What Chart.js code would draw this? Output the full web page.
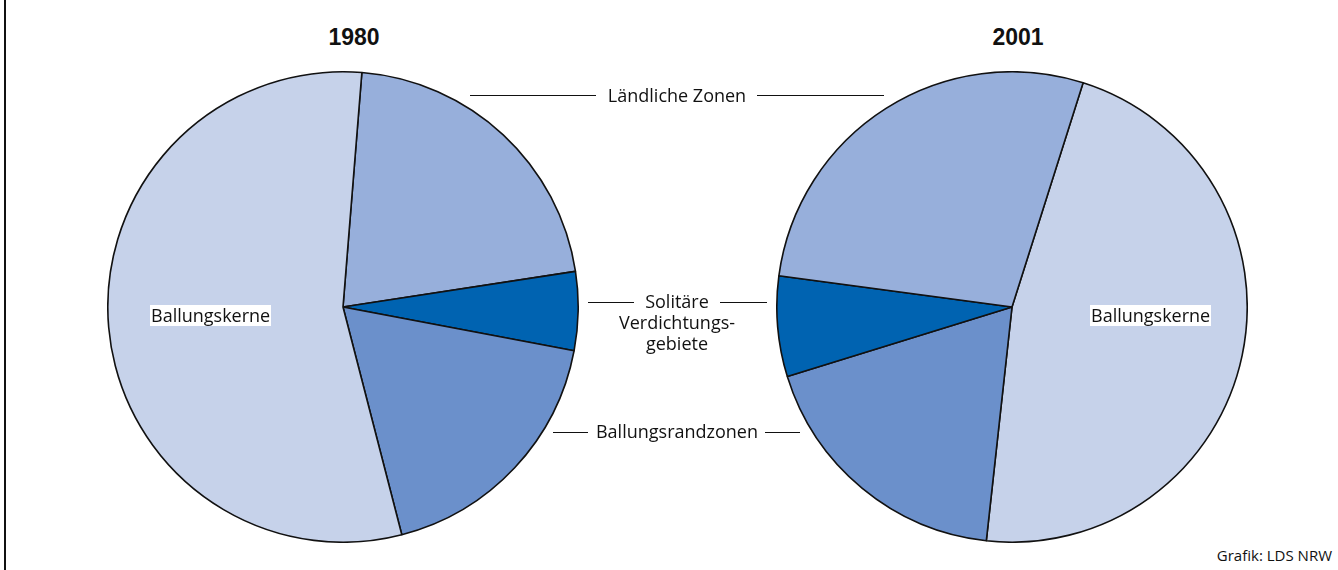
<!DOCTYPE html>
<html>
<head>
<meta charset="utf-8">
<script src="https://cdn.jsdelivr.net/npm/chart.js@4"></script>
<style>
  body { margin: 0; background: #fff; font-family: "Open Sans", "Noto Sans", sans-serif; color: #111; }
  #page { position: relative; width: 1338px; height: 570px; overflow: hidden; }
  #border { position: absolute; left: 4px; top: 0; width: 2px; height: 570px; background: #111; }
  .pie { position: absolute; width: 472px; height: 472px; }
  .year { position: absolute; top: 24px; width: 120px; text-align: center; font-family: "Liberation Sans", Arial, sans-serif; font-weight: bold; font-size: 23px; }
  .label { position: absolute; font-size: 18px; line-height: 21px; text-align: center; white-space: nowrap; }
  .tag { position: absolute; font-size: 18px; line-height: 21px; background: #fff; padding: 0 1px; white-space: nowrap; }
  .rule { position: absolute; height: 1px; background: #111; }
  #source { position: absolute; right: 6px; top: 545px; font-size: 15px; }
</style>
</head>
<body>
<div id="page">
  <div id="border"></div>
  <div class="year" style="left:294px">1980</div>
  <div class="year" style="left:958px">2001</div>

  <div class="pie" style="left:107px; top:71px"><canvas id="pie1980"></canvas></div>
  <div class="pie" style="left:776px; top:71px"><canvas id="pie2001"></canvas></div>

  <div class="rule" style="left:470px; top:95px; width:126px"></div>
  <div class="label" style="left:577px; top:85px; width:200px">Ländliche Zonen</div>
  <div class="rule" style="left:757px; top:95px; width:127px"></div>

  <div class="rule" style="left:588px; top:302px; width:46px"></div>
  <div class="label" style="left:577px; top:291px; width:200px">Solitäre<br>Verdichtungs-<br>gebiete</div>
  <div class="rule" style="left:720px; top:302px; width:47px"></div>

  <div class="rule" style="left:553px; top:432px; width:35px"></div>
  <div class="label" style="left:577px; top:421px; width:200px">Ballungsrandzonen</div>
  <div class="rule" style="left:765px; top:432px; width:35px"></div>

  <div class="tag" style="left:150px; top:305px">Ballungskerne</div>
  <div class="tag" style="left:1090px; top:305px">Ballungskerne</div>

  <div id="source">Grafik: LDS NRW</div>
</div>
<script>
// Anteile in Prozent
const labels1980 = ['Ländliche Zonen', 'Solitäre Verdichtungsgebiete', 'Ballungsrandzonen', 'Ballungskerne'];
const values1980 = [21.3, 5.4, 18.0, 55.3];
const colors1980 = ['#97afdb', '#0063b1', '#6b90cb', '#c6d2ea'];

const labels2001 = ['Ballungskerne', 'Ballungsrandzonen', 'Solitäre Verdichtungsgebiete', 'Ländliche Zonen'];
const values2001 = [46.9, 18.5, 6.9, 27.8];
const colors2001 = ['#c6d2ea', '#6b90cb', '#0063b1', '#97afdb'];

function makePie(id, labels, values, colors, rotation) {
  const ctx = document.getElementById(id).getContext('2d');
  return new Chart(ctx, {
    type: 'pie',
    data: {
      labels: labels,
      datasets: [{
        data: values,
        backgroundColor: colors,
        borderColor: '#111',
        borderWidth: 1.6
      }]
    },
    options: {
      responsive: true,
      maintainAspectRatio: false,
      animation: false,
      rotation: rotation,
      layout: { padding: 0 },
      plugins: {
        legend: { display: false },
        tooltip: { enabled: false }
      }
    }
  });
}

makePie('pie1980', labels1980, values1980, colors1980, 4.6);
makePie('pie2001', labels2001, values2001, colors2001, 17.6);
</script>
</body>
</html>
